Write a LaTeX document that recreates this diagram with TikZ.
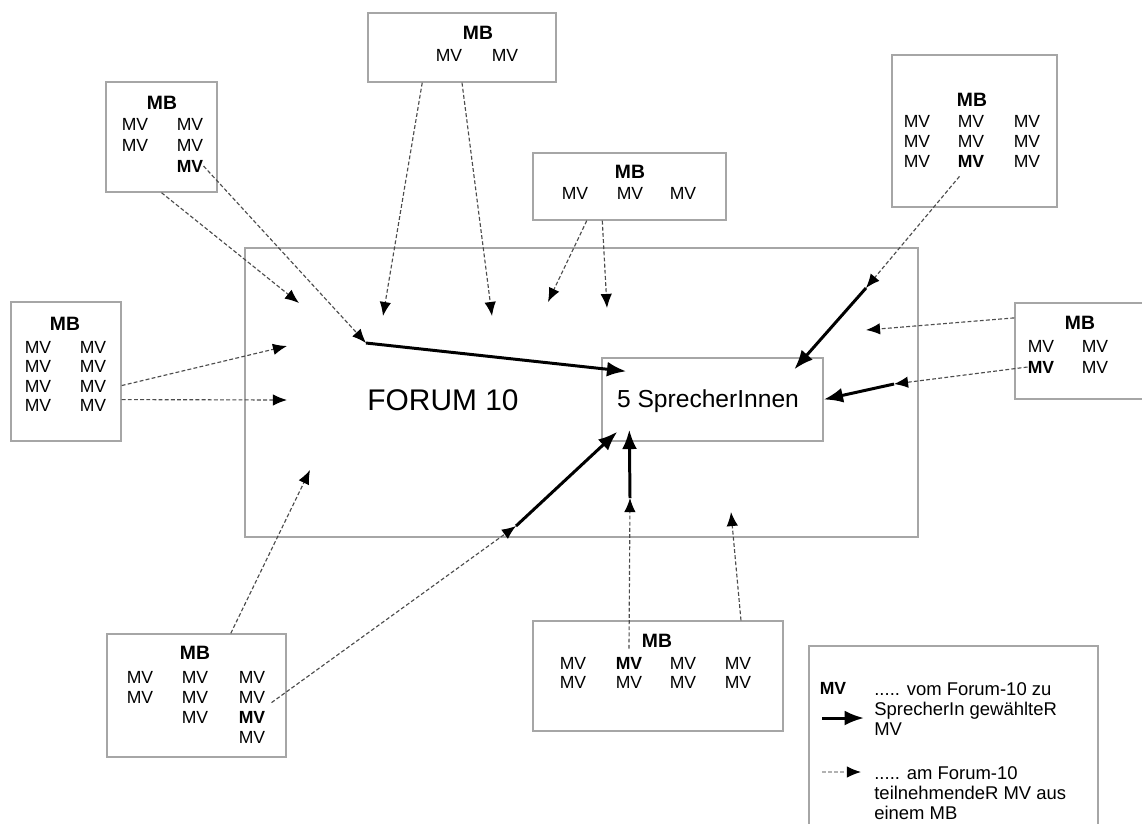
\documentclass[tikz,border=0pt]{standalone}
\usepackage{fontspec}
\setmainfont{Liberation Sans}
\usetikzlibrary{positioning}
\usetikzlibrary{calc}
\usetikzlibrary{arrows.meta}
\usetikzlibrary{fit}

\begin{document}
\begin{tikzpicture}[x=0.02cm, y=-0.02cm,
                    box/.style={draw=gray!70, line width=0.8pt, inner sep=0pt, fit={#1}},
                    mb/.style={font=\fontsize{11}{13}\selectfont\bfseries, inner sep=0pt},
                    mv/.style={font=\fontsize{10}{12}\selectfont, inner sep=0pt},
                    mvb/.style={font=\fontsize{10}{12}\selectfont\bfseries, inner sep=0pt},
                    teilnahme/.style={draw=gray!60!black, line width=0.65pt, dash pattern=on 2.2pt off 1.3pt,
                                      -{Latex[length=8pt,width=6.5pt,color=black]}},
                    wahl/.style={draw=black, line width=1.7pt, -{Latex[length=11pt,width=8.5pt]}}]

    \useasboundingbox (0,0) rectangle (1142,823);
    \clip (0,0) rectangle (1142,823);

    % forum and speakers
    \node[box={(245,248) (918,537)}] (forum) {};
    \node[font=\fontsize{17}{20}\selectfont, inner sep=0pt] (forum-t) at (443,400) {FORUM 10};
    \node[box={(602,358) (823,441)}] (spk) {};
    \node[font=\fontsize{14}{16}\selectfont, inner sep=0pt] (spk-t) at (708,401) {5 SprecherInnen};

    % MB top left
    \node[box={(106,82) (217,192)}] (tl) {};
    \node[mb] (tl-h) at (162,103) {MB};
    \foreach \x/\y [count=\i] in {135/124, 190/124, 135/145, 190/145}
        \node[mv] (tl-\i) at (\x,\y) {MV};
    \node[mvb] (tl-b) at (190,166) {MV};

    % MB top centre
    \node[box={(368,13) (556,82)}] (tc) {};
    \node[mb] (tc-h) at (478,33) {MB};
    \foreach \x [count=\i] in {449, 505}
        \node[mv] (tc-\i) at (\x,55) {MV};

    % MB middle top
    \node[box={(533,153) (726,220)}] (mt) {};
    \node[mb] (mt-h) at (630,172) {MB};
    \foreach \x [count=\i] in {575, 630, 683}
        \node[mv] (mt-\i) at (\x,193) {MV};

    % MB top right
    \node[box={(892,55) (1057,207)}] (tr) {};
    \node[mb] (tr-h) at (972,100) {MB};
    \foreach \x/\y [count=\i] in {917/121, 971/121, 1027/121, 917/141, 971/141, 1027/141, 917/161, 1027/161}
        \node[mv] (tr-\i) at (\x,\y) {MV};
    \node[mvb] (tr-b) at (971,161) {MV};

    % MB left
    \node[box={(11,302) (121,441)}] (l) {};
    \node[mb] (l-h) at (65,324) {MB};
    \foreach \y [count=\i] in {347, 366, 386, 405} {
        \node[mv] (l-a\i) at (38,\y) {MV};
        \node[mv] (l-b\i) at (93,\y) {MV};
    }

    % MB right
    \node[box={(1015,303) (1160,399)}] (r) {};
    \node[mb] (r-h) at (1080,323) {MB};
    \node[mv] (r-1) at (1041,346) {MV};
    \node[mv] (r-2) at (1095,346) {MV};
    \node[mvb] (r-b) at (1041,367) {MV};
    \node[mv] (r-3) at (1095,367) {MV};

    % MB bottom left
    \node[box={(107,634) (286,757)}] (bl) {};
    \node[mb] (bl-h) at (195,653) {MB};
    \foreach \x/\y [count=\i] in {140/677, 140/697, 195/677, 195/697, 195/717, 252/677, 252/697, 252/737}
        \node[mv] (bl-\i) at (\x,\y) {MV};
    \node[mvb] (bl-b) at (252,717) {MV};

    % MB bottom centre
    \node[box={(533,621) (783,731)}] (bc) {};
    \node[mb] (bc-h) at (657,641) {MB};
    \foreach \x/\y [count=\i] in {573/663, 683/663, 738/663, 573/682, 629/682, 683/682, 738/682}
        \node[mv] (bc-\i) at (\x,\y) {MV};
    \node[mvb] (bc-b) at (629,663) {MV};

    % arrow ends
    \coordinate (t1) at (299,303);
    \coordinate (t2) at (383,316);
    \coordinate (t3) at (492,316);
    \coordinate (t4) at (548,302);
    \coordinate (t5) at (607,308);
    \coordinate (t6) at (866,330);
    \coordinate (t7) at (287,346);
    \coordinate (t8) at (287,400);
    \coordinate (t9) at (310,470);
    \coordinate (t10) at (731,512);
    \coordinate (k1) at (366,343);
    \coordinate (k2) at (866,288);
    \coordinate (k3) at (894,384);
    \coordinate (k4) at (516,526);
    \coordinate (k5) at (630,498);

    % participants
    \draw[teilnahme] (tl.south) -- (t1);
    \draw[teilnahme] ($(tc.south west)!0.29!(tc.south east)$) -- (t2);
    \draw[teilnahme] (tc.south) -- (t3);
    \draw[teilnahme] ($(mt.south west)!0.28!(mt.south east)$) -- (t4);
    \draw[teilnahme] ($(mt.south west)!0.36!(mt.south east)$) -- (t5);
    \draw[teilnahme] ($(r.north west)!0.16!(r.south west)$) -- (t6);
    \draw[teilnahme] ($(l.north east)!0.6!(l.south east)$) -- (t7);
    \draw[teilnahme] ($(l.north east)!0.7!(l.south east)$) -- (t8);
    \draw[teilnahme] ($(bl.north west)!0.69!(bl.north east)$) -- (t9);
    \draw[teilnahme] ($(bc.north west)!0.83!(bc.north east)$) -- (t10);
    \draw[teilnahme] (tl-b.east) -- (k1);
    \draw[teilnahme] ($(tr-b.south west)+(2,9)$) -- (k2);
    \draw[teilnahme] (r-b.west) -- (k3);
    \draw[teilnahme] ($(bl-b.north east)+(6,-8)$) -- (k4);
    \draw[teilnahme] ($(bc-b.north)+(0,-8)$) -- (k5);

    % elected speakers
    \draw[wahl] (k1) -- ($(spk.north west)+(25,14)$);
    \draw[wahl] (k2) -- ($(spk.north west)+(193,12)$);
    \draw[wahl] (k3) -- (spk.east);
    \draw[wahl] (k4) -- ($(spk.south west)+(16,-10)$);
    \draw[wahl] (k5) -- ($(spk.south west)+(28,-12)$);

    % legend
    \node[box={(809,646) (1098,840)}] (leg) {};
    \node[mvb] (leg-mv) at (833,688) {MV};
    \node[font=\fontsize{10.5}{11.4}\selectfont, inner sep=0pt, anchor=north west, align=left] (leg-t1) at (874,682)
        {..... vom Forum-10 zu\\SprecherIn gewählteR\\MV};
    \node[font=\fontsize{10.5}{11.4}\selectfont, inner sep=0pt, anchor=north west, align=left] (leg-t2) at (874,766)
        {..... am Forum-10\\teilnehmendeR MV aus\\einem MB};
    \coordinate (leg-w0) at (822,718);
    \coordinate (leg-w1) at (864,718);
    \coordinate (leg-p0) at (822,772);
    \coordinate (leg-p1) at (861,772);
    \draw[wahl] (leg-w0) -- (leg-w1);
    \draw[teilnahme, draw=gray!60] (leg-p0) -- (leg-p1);
\end{tikzpicture}
\end{document}
